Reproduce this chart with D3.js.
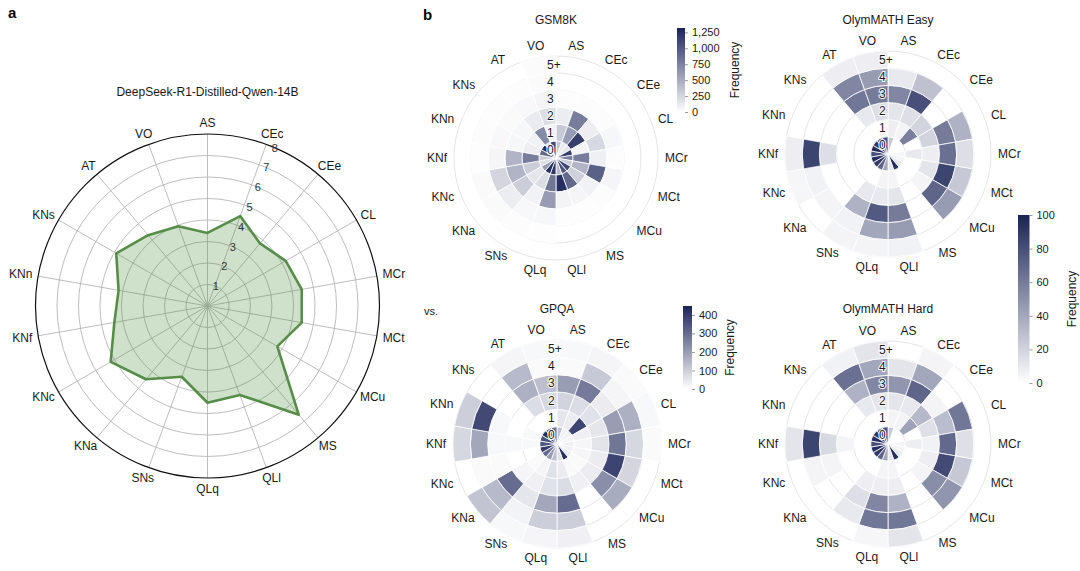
<!DOCTYPE html>
<html>
<head>
<meta charset="utf-8">
<script src="https://cdn.jsdelivr.net/npm/d3@7"></script>
<style>
  body { margin: 0; background: #fff; }
  svg { font-family: "Liberation Sans", Arial, sans-serif; }
</style>
</head>
<body>
<svg width="1080" height="571"></svg>
<script>
// categories, clockwise from the top
var categories = ["AS","CEc","CEe","CL","MCr","MCt","MCu","MS","QLl","QLq",
                  "SNs","KNa","KNc","KNf","KNn","KNs","AT","VO"];
var levels = ["0","1","2","3","4","5+"];

// panel a: DeepSeek-R1-Distilled-Qwen-14B
var radarValues = [3.4, 4.45, 3.8, 4.2, 4.45, 4.45, 3.75, 6.6, 4.4, 4.5,
                   3.5, 4.45, 5.2, 4.4, 4.2, 4.9, 4.3, 3.95];
var radarTicks = [1,2,3,4,5,6,7,8];

// panel b: frequency per category (rows) and level 0..5+ (columns)
var gsm8k = [
  [350, 320, 110, 15, 0, 0],
  [120, 600, 780, 20, 0, 0],
  [150, 1150, 100, 20, 0, 0],
  [1150, 60, 230, 50, 0, 0],
  [750, 780, 90, 15, 0, 0],
  [300, 450, 950, 60, 0, 0],
  [1100, 280, 80, 20, 0, 0],
  [1000, 900, 60, 10, 0, 0],
  [400, 1250, 70, 10, 0, 0],
  [1200, 820, 600, 50, 10, 0],
  [1250, 200, 80, 40, 15, 0],
  [600, 150, 300, 110, 30, 0],
  [200, 300, 450, 250, 30, 0],
  [300, 780, 450, 60, 10, 0],
  [900, 100, 50, 40, 15, 0],
  [1250, 80, 50, 30, 15, 0],
  [200, 700, 120, 40, 15, 0],
  [1100, 80, 200, 60, 30, 25]
];
var gpqa = [
  [120, 50, 90, 200, 10, 15],
  [30, 40, 70, 270, 110, 20],
  [30, 380, 60, 40, 20, 10],
  [20, 30, 50, 200, 160, 15],
  [30, 20, 55, 280, 80, 10],
  [30, 20, 40, 380, 85, 0],
  [40, 10, 40, 230, 170, 0],
  [420, 10, 30, 0, 0, 0],
  [60, 40, 70, 300, 100, 30],
  [130, 60, 60, 180, 100, 20],
  [200, 20, 30, 50, 25, 15],
  [300, 10, 20, 300, 140, 120],
  [400, 0, 0, 10, 10, 0],
  [350, 15, 15, 15, 180, 80],
  [350, 15, 0, 15, 370, 100],
  [420, 0, 0, 0, 0, 0],
  [300, 0, 70, 160, 140, 20],
  [280, 10, 80, 130, 10, 15]
];
var olymEasy = [
  [25, 8, 12, 55, 10, 0],
  [0, 5, 15, 80, 28, 0],
  [0, 58, 20, 0, 0, 0],
  [0, 0, 20, 60, 35, 0],
  [5, 10, 8, 65, 15, 0],
  [5, 0, 12, 85, 25, 0],
  [10, 0, 5, 70, 45, 0],
  [95, 0, 0, 0, 0, 0],
  [10, 5, 12, 60, 45, 6],
  [40, 5, 10, 75, 40, 5],
  [70, 0, 10, 35, 6, 5],
  [90, 0, 0, 0, 5, 0],
  [95, 0, 0, 0, 6, 4],
  [80, 0, 0, 15, 85, 8],
  [95, 0, 0, 0, 0, 0],
  [90, 0, 0, 0, 0, 0],
  [85, 0, 10, 62, 55, 8],
  [80, 0, 15, 60, 45, 8]
];
var olymHard = [
  [25, 5, 12, 48, 12, 0],
  [0, 5, 10, 70, 40, 5],
  [0, 42, 32, 5, 0, 0],
  [0, 0, 14, 30, 62, 0],
  [5, 8, 6, 68, 14, 0],
  [5, 0, 8, 82, 25, 0],
  [10, 0, 5, 52, 48, 0],
  [95, 0, 0, 0, 0, 0],
  [10, 5, 8, 35, 62, 12],
  [40, 5, 8, 55, 62, 4],
  [70, 0, 8, 15, 10, 0],
  [90, 0, 0, 0, 0, 0],
  [95, 0, 0, 5, 5, 0],
  [80, 0, 5, 17, 85, 12],
  [95, 0, 0, 0, 0, 0],
  [90, 0, 0, 0, 0, 0],
  [85, 0, 10, 35, 65, 6],
  [80, 0, 12, 55, 40, 12]
];
var gsm8kTicks = [0, 250, 500, 750, 1000, 1250];
var gpqaTicks = [0, 100, 200, 300, 400];
var olymTicks = [0, 20, 40, 60, 80, 100];

var navy = "#1a2357";
var textCol = "#1a1a1a";
var svg = d3.select("svg");
var angle = d3.scaleBand().domain(categories).range([0, 2 * Math.PI]);

// put a text just outside a circle, touching it like ggplot does
function outerLabel(g, txt, a, r, fs) {
  var t = g.append("text")
    .attr("font-size", fs)
    .attr("fill", textCol)
    .attr("text-anchor", "middle")
    .attr("dominant-baseline", "central")
    .text(txt);
  var w = t.node().getComputedTextLength(), h = fs * 0.78;
  var x = Math.sin(a) * r + Math.sin(a) * w / 2;
  var y = -Math.cos(a) * r - Math.cos(a) * h / 2;
  t.attr("x", x).attr("y", y);
}

// panel letters
svg.append("text").attr("x", 8).attr("y", 18).attr("font-size", 15)
  .attr("font-weight", "bold").attr("fill", "#000").text("a");
svg.append("text").attr("x", 423).attr("y", 20).attr("font-size", 15)
  .attr("font-weight", "bold").attr("fill", "#000").text("b");
svg.append("text").attr("x", 424).attr("y", 315).attr("font-size", 11)
  .attr("fill", textCol).text("vs.");

// ---------- panel a: radar ----------
(function () {
  var cx = 207.5, cy = 306, R = 172;
  var g = svg.append("g").attr("transform", "translate(" + cx + "," + cy + ")");
  var r = d3.scaleLinear().domain([0, 8]).range([0, R]);

  svg.append("text").attr("x", cx).attr("y", 96).attr("text-anchor", "middle")
    .attr("font-size", 12).attr("fill", textCol).text("DeepSeek-R1-Distilled-Qwen-14B");

  g.selectAll("circle.ring").data(radarTicks.slice(0, -1)).enter().append("circle")
    .attr("r", function (d) { return r(d); })
    .attr("fill", "none").attr("stroke", "#b5b5b5").attr("stroke-width", 0.9);

  g.selectAll("line.spoke").data(categories).enter().append("line")
    .attr("x1", 0).attr("y1", 0)
    .attr("x2", function (d) { return Math.sin(angle(d)) * R; })
    .attr("y2", function (d) { return -Math.cos(angle(d)) * R; })
    .attr("stroke", "#b5b5b5").attr("stroke-width", 0.9);

  g.append("circle").attr("r", r(8)).attr("fill", "none")
    .attr("stroke", "#111").attr("stroke-width", 1.2);

  var pts = categories.map(function (c, i) { return { cat: c, v: radarValues[i] }; });
  var line = d3.lineRadial()
    .angle(function (d) { return angle(d.cat); })
    .radius(function (d) { return r(d.v); })
    .curve(d3.curveLinearClosed);

  g.append("path").datum(pts).attr("d", line)
    .attr("fill", "#4f8c3f").attr("fill-opacity", 0.27)
    .attr("stroke", "#568d47").attr("stroke-width", 2.6)
    .attr("stroke-linejoin", "round");

  var la = 23 * Math.PI / 180;
  g.selectAll("text.tick").data(radarTicks).enter().append("text")
    .attr("x", function (d) { return Math.sin(la) * r(d); })
    .attr("y", function (d) { return -Math.cos(la) * r(d); })
    .attr("text-anchor", "middle").attr("dominant-baseline", "central")
    .attr("font-size", 11).attr("fill", "#333")
    .text(function (d) { return d; });

  categories.forEach(function (c) { outerLabel(g, c, angle(c), R + 6, 12); });
})();

// ---------- panel b: polar heatmaps ----------
function heatmap(cfg) {
  var g = svg.append("g").attr("transform", "translate(" + cfg.cx + "," + cfg.cy + ")");
  var rad = d3.scaleBand().domain(levels).range([0, cfg.R]);
  var color = d3.scaleLinear().domain([0, cfg.max]).range(["#ffffff", navy]).clamp(true);

  svg.append("text").attr("x", cfg.cx).attr("y", cfg.titleY).attr("text-anchor", "middle")
    .attr("font-size", 12).attr("fill", textCol).text(cfg.title);

  g.selectAll("circle.grid").data(levels).enter().append("circle")
    .attr("r", function (d) { return rad(d) + rad.bandwidth(); })
    .attr("fill", "none").attr("stroke", "#e6e6e6").attr("stroke-width", 1);

  var cells = [];
  cfg.data.forEach(function (row, i) {
    row.forEach(function (v, k) {
      if (v > 0) cells.push({ cat: categories[i], lev: levels[k], v: v });
    });
  });

  var arc = d3.arc()
    .innerRadius(function (d) { return rad(d.lev); })
    .outerRadius(function (d) { return rad(d.lev) + rad.bandwidth(); })
    .startAngle(function (d) { return angle(d.cat); })
    .endAngle(function (d) { return angle(d.cat) + angle.bandwidth(); });

  g.selectAll("path.cell").data(cells).enter().append("path")
    .attr("d", arc)
    .attr("fill", function (d) { return color(d.v); })
    .attr("stroke", "#fff").attr("stroke-width", 0.8);

  g.selectAll("text.lev").data(levels).enter().append("text")
    .attr("x", -9)
    .attr("y", function (d) { return -(rad(d) + rad.bandwidth() / 2); })
    .attr("dominant-baseline", "central")
    .attr("font-size", 12).attr("fill", textCol)
    .attr("stroke", "#fff").attr("stroke-width", 2).attr("paint-order", "stroke")
    .text(function (d) { return d; });

  categories.forEach(function (c) {
    outerLabel(g, c, angle(c) + angle.bandwidth() / 2, cfg.R + 7, 12);
  });

  if (cfg.bar) colorbar(cfg.bar, color, cfg.max);
}

function colorbar(b, color, max) {
  var id = "grad" + b.x;
  var grad = svg.append("defs").append("linearGradient").attr("id", id)
    .attr("x1", 0).attr("x2", 0).attr("y1", 1).attr("y2", 0);
  grad.append("stop").attr("offset", 0).attr("stop-color", color(0));
  grad.append("stop").attr("offset", 1).attr("stop-color", color(max));

  var y = d3.scaleLinear().domain([0, max]).range([b.y0, b.y1]);
  svg.append("rect").attr("x", b.x).attr("y", y(max)).attr("width", b.w)
    .attr("height", y(0) - y(max)).attr("fill", "url(#" + id + ")");

  var ax = svg.append("g").attr("transform", "translate(" + (b.x + b.w) + ",0)")
    .call(d3.axisRight(y).tickValues(b.ticks).tickSize(3).tickPadding(4).tickFormat(d3.format(",")));
  ax.select(".domain").remove();
  ax.selectAll("line").attr("stroke", "#999");
  ax.selectAll("text").attr("font-size", 11).attr("fill", textCol)
    .attr("font-family", "'Liberation Sans', Arial, sans-serif");

  svg.append("text")
    .attr("transform", "translate(" + b.labelX + "," + ((b.y0 + b.y1) / 2) + ") rotate(-90)")
    .attr("text-anchor", "middle").attr("font-size", 12).attr("fill", textCol)
    .text("Frequency");
}

heatmap({ title: "GSM8K", titleY: 24, cx: 556, cy: 158, R: 102, data: gsm8k, max: 1319,
  bar: { x: 677, w: 8, y0: 112, y1: 28, ticks: gsm8kTicks, labelX: 739 } });
heatmap({ title: "OlymMATH Easy", titleY: 24, cx: 888, cy: 154, R: 103, data: olymEasy, max: 100 });
heatmap({ title: "GPQA", titleY: 313, cx: 557, cy: 444, R: 104, data: gpqa, max: 448,
  bar: { x: 683, w: 9, y0: 389, y1: 306, ticks: gpqaTicks, labelX: 734 } });
heatmap({ title: "OlymMATH Hard", titleY: 313, cx: 888, cy: 444, R: 103, data: olymHard, max: 100,
  bar: { x: 1018, w: 11.5, y0: 383, y1: 215, ticks: olymTicks, labelX: 1076 } });
</script>
</body>
</html>
